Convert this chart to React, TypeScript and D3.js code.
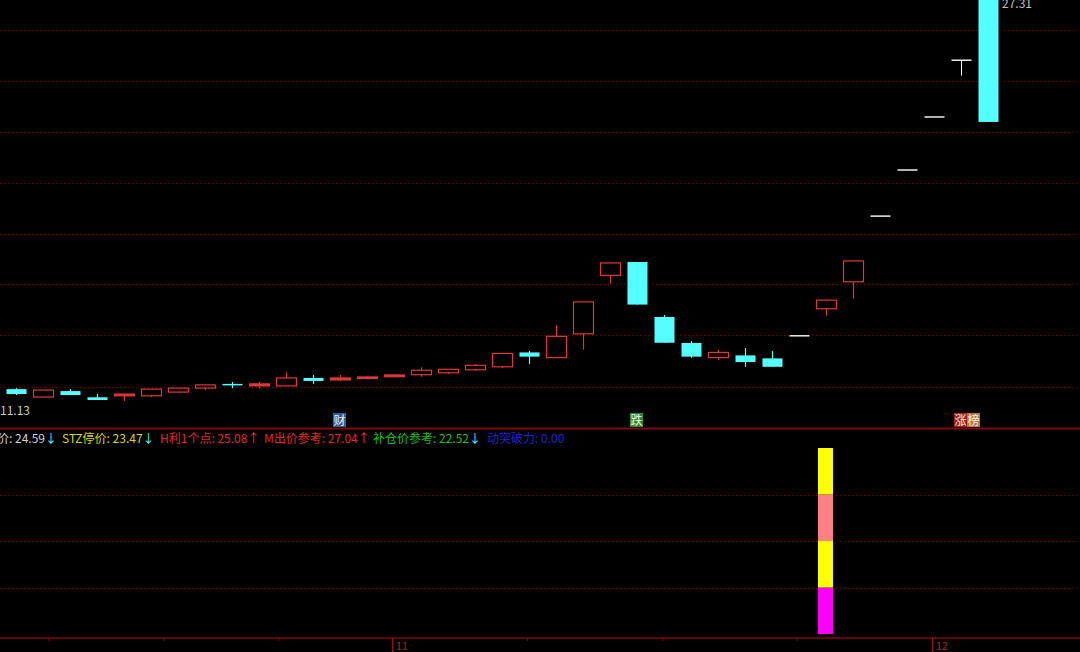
import React, { useEffect } from "react";
import * as d3 from "d3";

// ---- data ----
const opens = [11.61, 11.29, 11.53, 11.28, 11.34, 11.34, 11.49, 11.65, 11.82, 11.74, 11.74, 12.06, 11.98, 12.04, 12.11, 12.19, 12.27, 12.39, 12.51, 13.09, 12.88, 13.84, 16.20, 16.74, 14.52, 13.47, 12.88, 12.97, 12.85, 13.76, 14.85, 15.94, 18.59, 20.45, 22.59, 24.88, 27.31];
const highs = [11.65, 11.57, 11.61, 11.41, 11.41, 11.61, 11.65, 11.78, 11.90, 11.90, 12.28, 12.18, 12.18, 12.12, 12.18, 12.49, 12.41, 12.62, 13.05, 13.15, 14.20, 15.13, 16.70, 16.74, 14.60, 13.55, 13.19, 13.27, 13.15, 13.76, 15.20, 16.78, 18.59, 20.45, 22.59, 24.88, 27.31];
const lows = [11.37, 11.29, 11.37, 11.17, 11.13, 11.29, 11.49, 11.57, 11.65, 11.65, 11.74, 11.82, 11.94, 12.02, 12.11, 12.11, 12.22, 12.34, 12.46, 12.62, 12.88, 13.20, 15.86, 15.02, 13.48, 12.87, 12.78, 12.51, 12.51, 13.76, 14.57, 15.26, 18.59, 20.45, 22.59, 24.26, 22.39];
const closes = [11.41, 11.57, 11.37, 11.17, 11.41, 11.61, 11.65, 11.78, 11.78, 11.82, 12.06, 11.94, 12.06, 12.10, 12.18, 12.37, 12.41, 12.57, 13.05, 12.92, 13.74, 15.13, 16.70, 15.02, 13.48, 12.92, 13.09, 12.70, 12.51, 13.76, 15.20, 16.78, 18.59, 20.45, 22.59, 24.88, 22.39];

const priceGrid = [26.10, 24.04, 21.98, 19.93, 17.87, 15.85, 13.79, 11.69];
const maxLabel = "27.31";
const minLabel = "11.13";

// markers: candle index and text
const markerIdx = [12, 23, 35];
const markerText = ["财", "跌", "涨榜"];
const markerBg = [["#2f5f9a"], ["#2a8a2a"], ["#a01e1e", "#b8783a"]];

// lower pane stacked signal
const signalIdx = 30;
const signalSegments = [1, 1, 1, 1];
const signalColors = ["#ff00ff", "#ffff00", "#ff8080", "#ffff00"];
const lowerGrid = [1, 2, 3];

// legend
const legendText = ["价: 24.59", "STZ停价: 23.47", "H利1个点: 25.08", "M出价参考: 27.04", "补仓价参考: 22.52", "动突破力: 0.00"];
const legendArrow = ["↓", "↓", "↑", "↑", "↓", ""];
const legendColor = ["#d0d0d0", "#d8d800", "#e02828", "#e02828", "#18c018", "#2222cc"];
const legendArrowColor = ["#54ffff", "#54ffff", "#ff3030", "#ff3030", "#54ffff", "#54ffff"];
const legendX = [-3, 62, 160, 264, 373, 487];

// bottom axis ticks (in candle index units)
const minorTicks = [1.21, 5.47, 9.73, 18.94, 23.96, 28.93];
const monthTicks = [13.95, 33.95];
const monthLabels = ["11", "12"];

const W = 1080;
const H = 652;
const UP = "#e03838";
const DOWN = "#54ffff";
const GRID = "#6e0a0a";

export default function App() {
  useEffect(() => {
    document.body.style.margin = "0";
    document.body.style.background = "#000";
  }, []);

  const x = d3.scaleLinear().domain([0, 36]).range([16, 988]);
  const y = d3.scaleLinear().domain([11.13, 27.31]).range([401, 0]);
  const yLow = d3.scaleLinear().domain([0, 4]).range([634, 448]);
  const half = 10;

  const candles = opens.map((o, i) => {
    const c = closes[i], h = highs[i], l = lows[i];
    const cx = Math.round(x(i)) + 0.5;
    if (o === c) {
      return (
        <g key={i}>
          {h !== l && <line x1={cx} x2={cx} y1={y(h)} y2={y(l)} stroke="#ffffff" strokeWidth={1} />}
          <line x1={cx - half} x2={cx + half} y1={y(o)} y2={y(o)} stroke="#ffffff" strokeWidth={1.4} />
        </g>
      );
    }
    if (c > o) {
      const top = y(c), bot = y(o);
      const hgt = Math.max(bot - top, 1);
      return (
        <g key={i}>
          <line x1={cx} x2={cx} y1={y(h)} y2={top} stroke={UP} strokeWidth={1.2} />
          <line x1={cx} x2={cx} y1={bot} y2={y(l)} stroke={UP} strokeWidth={1.2} />
          <rect x={cx - half} y={top} width={half * 2} height={hgt} fill={hgt < 3 ? UP : "none"} stroke={UP} strokeWidth={1.2} />
        </g>
      );
    }
    const top = y(o), bot = y(c);
    return (
      <g key={i}>
        <line x1={cx} x2={cx} y1={y(h)} y2={y(l)} stroke={DOWN} strokeWidth={1.2} />
        <rect x={cx - half} y={top} width={half * 2} height={Math.max(bot - top, 1.5)} fill={DOWN} />
      </g>
    );
  });

  let acc = 0;
  const segs = signalSegments.map((v, k) => {
    const y0 = yLow(acc);
    acc += v;
    const y1 = yLow(acc);
    return <rect key={k} x={x(signalIdx) - 8} y={y1} width={15} height={y0 - y1} fill={signalColors[k]} />;
  });

  return (
    <svg width={W} height={H} style={{ position: "absolute", left: 0, top: 0, background: "#000", display: "block" }}
      fontFamily="'Noto Sans CJK SC', 'Noto Sans', sans-serif">
      <rect x={0} y={0} width={W} height={H} fill="#000" />
      {/* price grid */}
      {priceGrid.map((p, k) => (
        <line key={k} x1={0} x2={W} y1={Math.round(y(p)) + 0.5} y2={Math.round(y(p)) + 0.5} stroke={GRID} strokeDasharray="1,3" strokeWidth={1} />
      ))}
      {candles}
      {/* max / min labels */}
      <text x={1002} y={8} fill="#c0c0c0" fontSize={12}>{maxLabel}</text>
      <text x={0} y={415} fill="#c8c8c8" fontSize={12}>{minLabel}</text>
      {/* markers */}
      {markerIdx.map((mi, k) => {
        const chars = Array.from(markerText[k]);
        const startX = x(mi) - 7;
        return (
          <g key={k}>
            {chars.map((ch, j) => (
              <g key={j}>
                <rect x={startX + j * 13} y={413} width={13} height={14} fill={markerBg[k][j] || markerBg[k][0]} />
                <text x={startX + j * 13 + 6.5} y={425} fill="#f0f0f0" fontSize={12} textAnchor="middle">{ch}</text>
              </g>
            ))}
          </g>
        );
      })}
      {/* divider */}
      <line x1={0} x2={W} y1={428.5} y2={428.5} stroke="#800808" strokeWidth={2} />
      {/* legend */}
      {legendText.map((t, k) => (
        <text key={k} x={legendX[k]} y={443} fontSize={12} fill={legendColor[k]}>
          {t}
          <tspan fill={legendArrowColor[k]}>{legendArrow[k]}</tspan>
        </text>
      ))}
      {/* lower grid */}
      {lowerGrid.map((v, k) => (
        <line key={k} x1={0} x2={W} y1={Math.round(yLow(v)) + 0.5} y2={Math.round(yLow(v)) + 0.5} stroke={GRID} strokeDasharray="1,3" strokeWidth={1} />
      ))}
      {segs}
      {/* bottom axis */}
      <line x1={0} x2={W} y1={638} y2={638} stroke="#800808" strokeWidth={1.5} />
      {minorTicks.map((t, k) => (
        <line key={k} x1={x(t)} x2={x(t)} y1={638} y2={641} stroke="#800808" strokeWidth={1} />
      ))}
      {monthTicks.map((t, k) => (
        <g key={k}>
          <line x1={x(t)} x2={x(t)} y1={638} y2={652} stroke="#9a1414" strokeWidth={1.2} />
          <text x={x(t) + 3} y={650} fill="#b02020" fontSize={11}>{monthLabels[k]}</text>
        </g>
      ))}
    </svg>
  );
}
